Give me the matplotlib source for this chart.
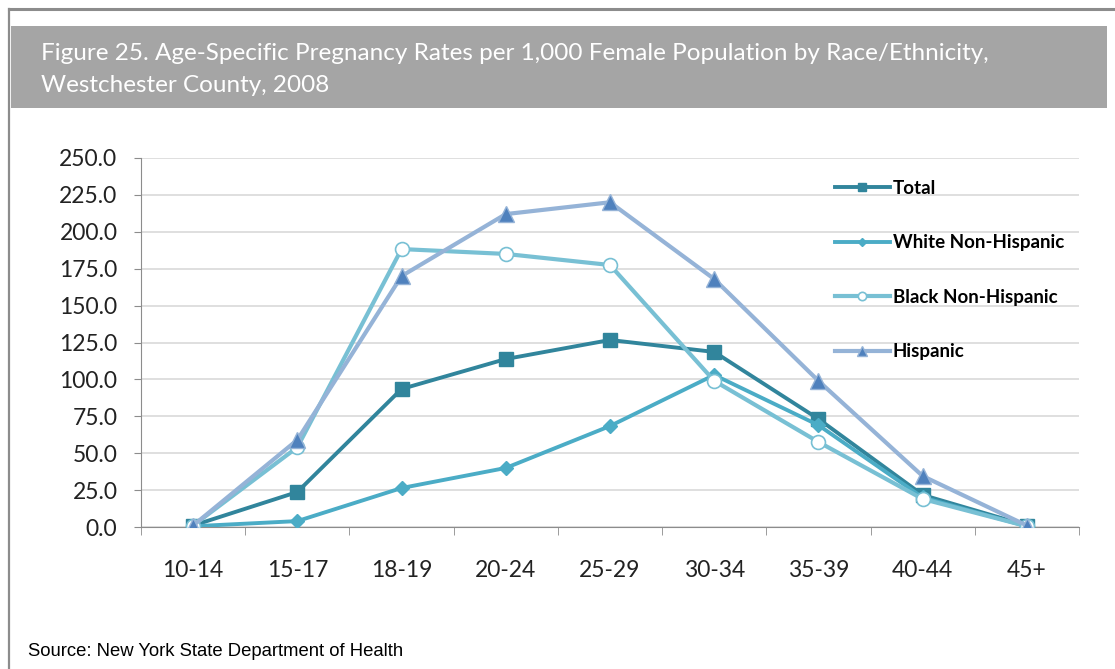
import matplotlib.pyplot as plt
from matplotlib.patches import Rectangle
from matplotlib.lines import Line2D

# Data
age_groups = ['10-14', '15-17', '18-19', '20-24', '25-29', '30-34', '35-39', '40-44', '45+']
total = [1.0, 23.7, 93.5, 113.8, 126.7, 118.6, 73.2, 21.7, 1.0]
white_nh = [0.5, 4.0, 26.4, 40.0, 68.4, 103.0, 69.0, 20.0, 0.5]
black_nh = [1.0, 54.0, 188.3, 185.0, 177.5, 99.0, 57.6, 19.0, 0.5]
hispanic = [1.0, 59.0, 170.0, 212.0, 220.0, 168.0, 99.0, 34.5, 1.0]

W, H = 1115, 669
fig = plt.figure(figsize=(W / 100, H / 100), dpi=100)
plt.rcParams['font.family'] = ['Lato', 'DejaVu Sans']

# outer frame lines (top and left)
fig.add_artist(Line2D([9 / W, 1], [1 - 9 / H, 1 - 9 / H], color='#8c8c8c', lw=2.2,
                      transform=fig.transFigure))
fig.add_artist(Line2D([9 / W, 9 / W], [1 - 9 / H, 0], color='#8c8c8c', lw=1.6,
                      transform=fig.transFigure))

# title band
fig.add_artist(Rectangle((11 / W, 1 - 108 / H), 1096 / W, 82 / H, transform=fig.transFigure,
                         facecolor='#a5a5a5', edgecolor='none'))
fig.text(41 / W, 1 - 53 / H, 'Figure 25. Age-Specific Pregnancy Rates per 1,000 Female Population by Race/Ethnicity,',
         color='white', fontsize=17.5, va='center', ha='left')
fig.text(41 / W, 1 - 86 / H, 'Westchester County, 2008', color='white', fontsize=17.5, va='center', ha='left')

fig.text(28 / W, 1 - 651 / H, 'Source: New York State Department of Health', family='Liberation Sans',
         fontsize=13.3, va='center', ha='left', color='black')

ax = fig.add_axes([141 / W, 1 - 527 / H, (1079 - 141) / W, (527 - 158) / H])
x = range(len(age_groups))

ax.plot(x, total, color='#31859c', lw=2.8, marker='s', ms=10, label='Total', zorder=3)
ax.plot(x, white_nh, color='#4bacc6', lw=2.8, marker='D', ms=7, label='White Non-Hispanic', zorder=4)
ax.plot(x, black_nh, color='#78c0d4', lw=3.0, marker='o', ms=10, mfc='white', mec='#78c0d4',
        mew=1.2, label='Black Non-Hispanic', zorder=5)
ax.plot(x, hispanic, color='#95b3d7', lw=3.0, marker='^', ms=12, mfc='#4f81bd', mec='#95b3d7',
        mew=1.0, label='Hispanic', zorder=6)

ax.set_xlim(-0.5, len(age_groups) - 0.5)
ax.set_ylim(0, 250)
ax.set_yticks([i * 25 for i in range(11)])
ax.set_yticklabels(['%.1f' % (i * 25) for i in range(11)], fontsize=16.5, color='#222222')
ax.set_xticks(list(x))
ax.set_xticklabels(age_groups, fontsize=16.5, color='#222222')
ax.set_xticks([i - 0.5 for i in range(len(age_groups) + 1)], minor=True)
ax.tick_params(axis='x', which='major', length=0, pad=24)
ax.tick_params(axis='x', which='minor', length=5.5, color='#8c8c8c', direction='out')
ax.tick_params(axis='y', length=5, color='#8c8c8c', pad=12)
ax.grid(axis='y', color='#d9d9d9', lw=1.2)
ax.set_axisbelow(True)
for side in ['top', 'right']:
    ax.spines[side].set_visible(False)
ax.spines['left'].set_color('#8c8c8c')
ax.spines['bottom'].set_color('#8c8c8c')

ax.legend(loc='upper left', bbox_to_anchor=((835 - 141) / (1079 - 141), (527 - 180) / (527 - 158)),
          frameon=False, prop={'weight': 'bold', 'size': 13.5}, handlelength=2.93,
          handletextpad=0.16, labelspacing=2.0, markerscale=0.6, borderaxespad=0, borderpad=0)

fig.savefig('out.png', dpi=100)
